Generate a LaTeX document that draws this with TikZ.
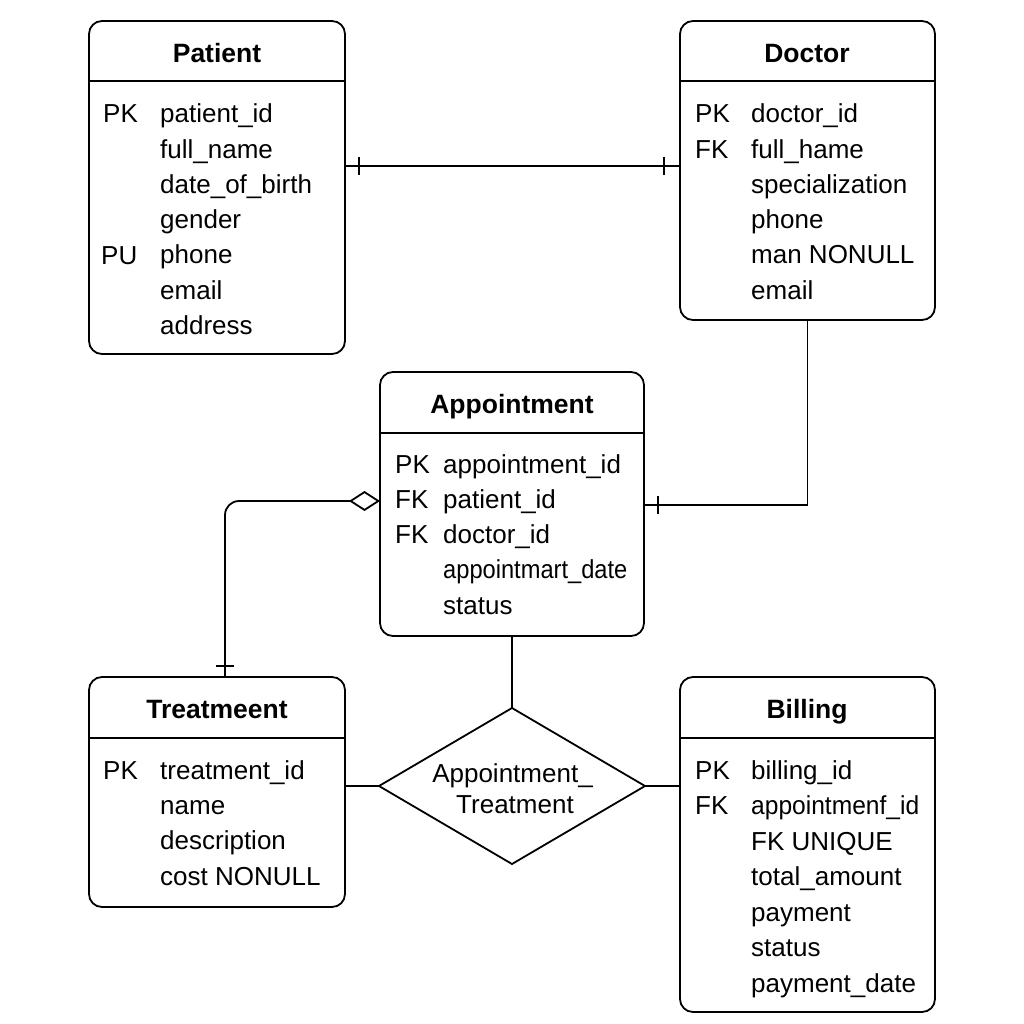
\documentclass[tikz,border=0pt]{standalone}
\usepackage{fontspec}
\setmainfont{Liberation Sans}
\usetikzlibrary{shapes.geometric,arrows.meta,calc}
\begin{document}
\begin{tikzpicture}[x=1pt,y=-1pt,
  ent/.style={draw, line width=1.8pt, rounded corners=13pt, inner sep=0pt, outer sep=0pt, anchor=north west},
  ttl/.style={font=\bfseries\fontsize{26.5}{30}\selectfont, anchor=base, inner sep=0pt},
  attr/.style={font=\fontsize{26}{30}\selectfont, anchor=base west, inner sep=0pt},
  conn/.style={line width=1.8pt},
]
\useasboundingbox[fill=white] (0,0) rectangle (1024,1024);

% ---------- entity boxes ----------
\node[ent, minimum width=256pt, minimum height=333pt] (patient) at (89,21) {};
\node[ent, minimum width=255pt, minimum height=299pt] (doctor) at (680,21) {};
\node[ent, minimum width=264pt, minimum height=264pt] (appt) at (380,372) {};
\node[ent, minimum width=256pt, minimum height=230pt] (treat) at (89,677) {};
\node[ent, minimum width=255pt, minimum height=335pt] (bill) at (680,677) {};

% header separators
\draw[conn] ($(patient.north west)+(0,60)$) -- ($(patient.north east)+(0,60)$);
\draw[conn] ($(doctor.north west)+(0,60)$) -- ($(doctor.north east)+(0,60)$);
\draw[conn] ($(appt.north west)+(0,61)$) -- ($(appt.north east)+(0,61)$);
\draw[conn] ($(treat.north west)+(0,61)$) -- ($(treat.north east)+(0,61)$);
\draw[conn] ($(bill.north west)+(0,61)$) -- ($(bill.north east)+(0,61)$);

% titles
\node[ttl] (patientT) at (217,63) {Patient};
\node[ttl] (doctorT) at (807,63) {Doctor};
\node[ttl] (apptT) at (512,413) {Appointment};
\node[ttl] (treatT) at (217,718) {Treatmeent};
\node[ttl] (billT) at (807,718) {Billing};

% ---------- Patient ----------
\node[attr] (pk1) at (103,123) {PK};
\node[attr] (pk5) at (101,264.2) {PU};
\foreach \t [count=\i] in {patient\_id,full\_name,date\_of\_birth,gender,phone,email,address}
  \node[attr] (pa\i) at (160,123+35.2*\i-35.2) {\t};

% ---------- Doctor ----------
\node[attr] (dk1) at (695,123) {PK};
\node[attr] (dk2) at (695,158.2) {FK};
\foreach \t [count=\i] in {doctor\_id,full\_hame,specialization,phone,man NONULL,email}
  \node[attr] (da\i) at (751,123+35.2*\i-35.2) {\t};

% ---------- Appointment ----------
\node[attr] (ak1) at (395,473) {PK};
\node[attr] (ak2) at (395,508.3) {FK};
\node[attr] (ak3) at (395,543.6) {FK};
\node[attr] (aa1) at (443,473) {appointment\_id};
\node[attr] (aa2) at (443,508.3) {patient\_id};
\node[attr] (aa3) at (443,543.6) {doctor\_id};
\node[attr] (aa4) at (443,578.9) {\scalebox{0.91}[1]{appointmart\_date}};
\node[attr] (aa5) at (443,614.2) {status};

% ---------- Treatment ----------
\node[attr] (tk1) at (103,779) {PK};
\foreach \t [count=\i] in {treatment\_id,name,description,cost NONULL}
  \node[attr] (ta\i) at (160,779+35.4*\i-35.4) {\t};

% ---------- Billing ----------
\node[attr] (bk1) at (695,779) {PK};
\node[attr] (bk2) at (695,814.4) {FK};
\node[attr] (ba1) at (751,779) {billing\_id};
\node[attr] (ba2) at (751,814.4) {\scalebox{0.945}[1]{appointmenf\_id}};
\foreach \t [count=\i from 3] in {FK UNIQUE,total\_amount,payment,status,payment\_date}
  \node[attr] (ba\i) at (751,779+35.5*\i-35.5) {\t};

% ---------- relationship diamond ----------
\node[diamond, draw, line width=1.8pt, minimum width=266pt, minimum height=156pt, inner sep=0pt, outer sep=0pt] (rel) at (512,786) {};
\node[attr, anchor=base] (relA) at (512.5,782) {Appointment\_};
\node[attr, anchor=base] (relB) at (515,813) {Treatment};

% ---------- connectors ----------
% Patient -- Doctor
\draw[conn] ($(patient.north east)+(0,145)$) -- ($(doctor.north west)+(0,145)$);
\coordinate (tk1c) at ($(patient.north east)+(14,145)$);
\draw[conn] (tk1c) ++(0,-9) -- ++(0,18);
\coordinate (tk2c) at ($(doctor.north west)+(-16,145)$);
\draw[conn] (tk2c) ++(0,-9) -- ++(0,18);

% Doctor -- Appointment
\draw[conn] (doctor.south) |- ($(appt.north east)+(0,133)$);
\coordinate (tk3c) at ($(appt.north east)+(14,133)$);
\draw[conn] (tk3c) ++(0,-9) -- ++(0,18);

% Appointment -- Treatment (aggregation diamond)
\draw[conn, rounded corners=14pt, {Diamond[open, length=31pt, width=20pt]}-] ($(appt.north west)+(0,129)$) -| ($(treat.north)+(8,0)$);
\coordinate (tk4c) at ($(treat.north)+(8,-11)$);
\draw[conn] (tk4c) ++(-9,0) -- ++(18,0);

% Appointment -- relationship
\draw[conn] (appt.south) -- (appt.south |- rel.north);
% relationship -- Treatment / Billing
\draw[conn] (rel.west) -- (rel.west -| treat.east);
\draw[conn] (rel.east) -- (rel.east -| bill.west);
\end{tikzpicture}
\end{document}
